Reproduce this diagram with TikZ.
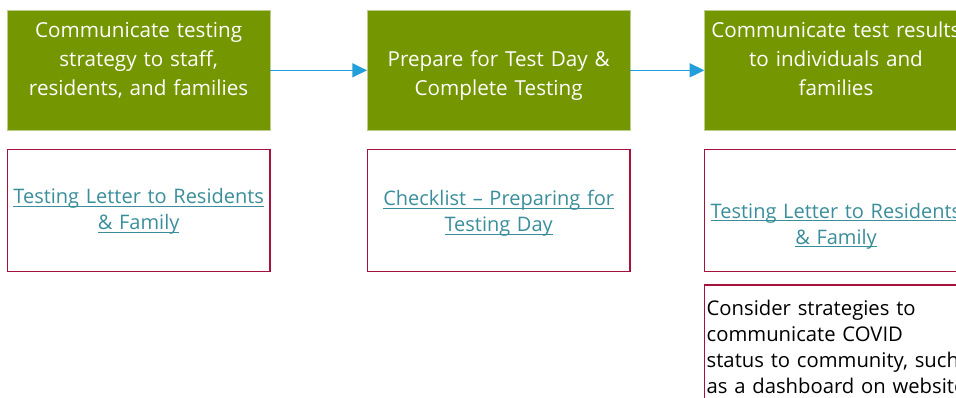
\documentclass[tikz,border=0pt]{standalone}
\usepackage{fontspec}
\setmainfont{Open Sans}
\usetikzlibrary{arrows.meta, positioning}

\definecolor{stepgreen}{RGB}{116,150,0}
\definecolor{stepedge}{RGB}{190,205,140}
\definecolor{linkred}{RGB}{165,18,62}
\definecolor{linkteal}{RGB}{58,142,155}
\definecolor{flowblue}{RGB}{34,158,217}

% underline just below the baseline
\newcommand{\linkul}[1]{\leavevmode\setbox0\hbox{#1}\rlap{\rule[-2.2pt]{\wd0}{0.6pt}}\box0}

\begin{document}
\begin{tikzpicture}[auto, node distance=13.5pt, >={Triangle[length=11pt, width=10.5pt]}]
    % Styles
    \tikzstyle{stepbox} = [rectangle, draw=stepedge, line width=0.5pt, fill=stepgreen, text=white,
        text width=196pt, align=center, minimum width=197pt, minimum height=90pt,
        inner xsep=0.5pt, inner ysep=2pt, font=\fontsize{15.5}{21.75}\selectfont]
    \tikzstyle{linkbox} = [rectangle, draw=linkred, line width=1.2pt, text=linkteal,
        text width=196pt, align=center, minimum width=197pt, minimum height=91.5pt,
        inner xsep=0.5pt, inner ysep=2pt, text depth=23.5pt, font=\fontsize{15}{19.5}\selectfont]
    \tikzstyle{notebox} = [rectangle, draw=linkred, line width=1.2pt, text=black,
        text width=200pt, align=left, inner xsep=1.5pt, inner ysep=2pt,
        text height=20.5pt, text depth=100pt, font=\fontsize{15.2}{19.5}\selectfont]
    \tikzstyle{arrow} = [line width=1pt, draw=flowblue, ->]

    \useasboundingbox (0,0) rectangle (717pt,-298.5pt);
    \clip (0,0) rectangle (717pt,-298.5pt);

    % Nodes
    \node[stepbox, anchor=north west, text height=14.5pt, text depth=64pt] (inform) at (5.25pt,-7.5pt)
        {Communicate testing\\ strategy to staff,\\ residents, and families};
    \node[stepbox, right=72.5pt of inform, text height=20pt, text depth=26pt] (prepare)
        {Prepare for Test Day \&\\ Complete Testing};
    \node[stepbox, right=55.5pt of prepare, text height=14.5pt, text depth=64pt] (results)
        {Communicate test results\\ to individuals and\\ families};
    \node[linkbox, below=of inform, text height=13pt] (letter1)
        {\linkul{Testing Letter to Residents}\\ \linkul{\& Family}};
    \node[linkbox, below=of prepare, text height=16pt] (checklist)
        {\linkul{Checklist -- Preparing for}\\ \linkul{Testing Day}};
    \node[linkbox, below=of results, text height=35pt] (letter2)
        {\linkul{Testing Letter to Residents}\\ \linkul{\& Family}};
    \node[notebox, below=9pt of letter2.south west, anchor=north west] (dashboard)
        {Consider strategies to\\ communicate COVID\\ status to community, such\\ as a dashboard on website};

    % Paths
    \draw [arrow] (inform) -- (prepare);
    \draw [arrow] (prepare) -- (results);
\end{tikzpicture}
\end{document}
